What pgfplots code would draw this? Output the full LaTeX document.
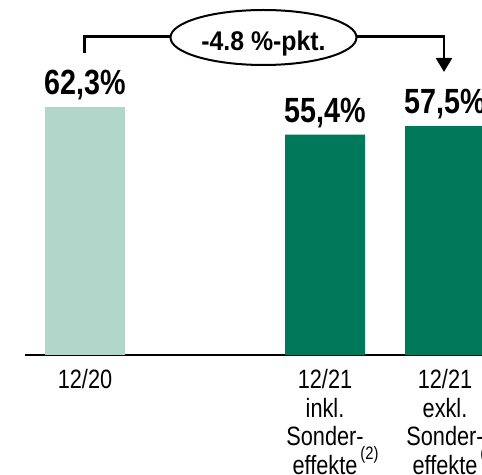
\documentclass[border=0pt]{standalone}
\usepackage{pgfplots}
\pgfplotsset{compat=1.18}
\usepackage{fontspec}
\setmainfont{Liberation Sans}
\newfontfamily\narrow[FakeStretch=0.82]{Liberation Sans}
\newfontfamily\semi[FakeStretch=0.92]{Liberation Sans}
\usetikzlibrary{arrows.meta}
\definecolor{lightg}{RGB}{177,214,202}
\definecolor{darkg}{RGB}{0,120,90}
\newcommand\supr{\rlap{\hspace{3bp}\raisebox{15bp}{\fontsize{18bp}{18bp}\selectfont (2)}}}
\begin{document}
\begin{tikzpicture}
\useasboundingbox (-25bp,-120bp) rectangle (457bp,355bp);
\clip (-25bp,-120bp) rectangle (457bp,355bp);
\begin{axis}[
 at={(0,0)}, anchor=south west,
 scale only axis, width=457bp, height=355bp,
 xmin=-0.5, xmax=3.3083, ymin=0, ymax=89.2,
 axis x line=bottom, axis y line=none,
 x axis line style={-, line width=2bp, black},
 xtick={0,2,3},
 xticklabels={12/20, {12/21\\inkl.\\Sonder-\\effekte\supr}, {12/21\\exkl.\\Sonder-\\effekte\supr}},
 major tick length=0pt,
 xticklabel style={anchor=north, inner sep=0pt, yshift=-14.5bp, align=center, font=\fontsize{26.5bp}{28.5bp}\narrow},
 ytick=\empty,
 ybar, bar width=80bp,
 clip=false,
 nodes near coords={\pgfmathprintnumber[fixed,fixed zerofill,precision=1,use comma,assume math mode=true]{\pgfplotspointmeta}\%},
 every node near coord/.append style={anchor=base, yshift=12.5bp, font=\fontsize{35bp}{35bp}\narrow\bfseries, black},
]
\addplot[fill=lightg, draw=none, bar shift=0pt] coordinates {(0,62.3)};
\addplot[fill=darkg, draw=none, bar shift=0pt] coordinates {(2,55.4) (3,57.5)};
\end{axis}
\begin{scope}[x=1bp,y=-1bp,shift={(-25bp,355bp)}, line width=2.5bp]
\draw (84.5,53) -- (84.5,36.5) -- (170.5,36.5);
\draw[line width=2bp] (263.5,37.5) ellipse [x radius=93, y radius=27.5];
\draw[-{Triangle[width=16bp,length=14bp]}] (356.5,36.5) -- (444,36.5) -- (444,72);
\node[anchor=base, inner sep=0pt, font=\fontsize{27bp}{27bp}\semi\bfseries] at (263.5,51) {-4.8 \%-pkt.};
\end{scope}
\end{tikzpicture}
\end{document}
